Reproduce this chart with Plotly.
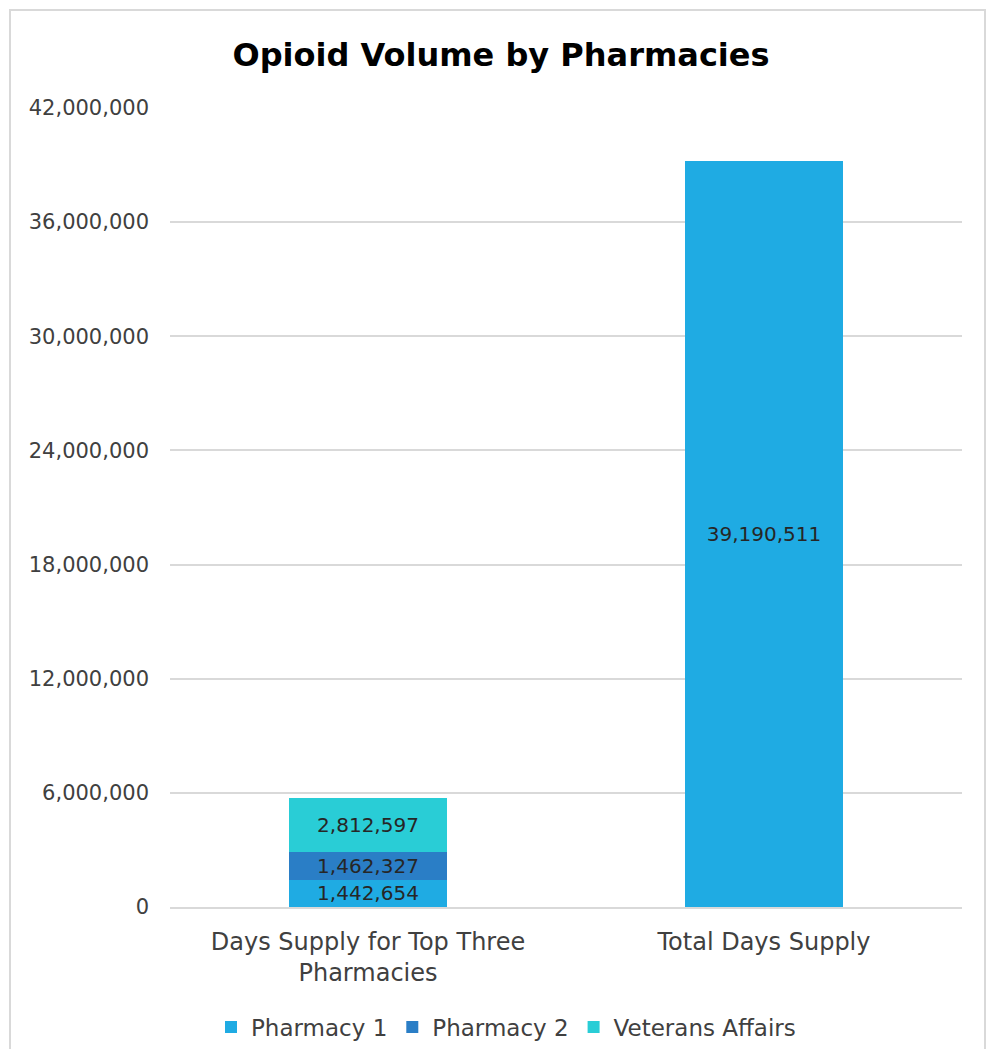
import plotly.graph_objects as go

categories = ["Days Supply for Top Three<br>Pharmacies", "Total Days Supply"]
pharmacy1 = [1442654, 39190511]
pharmacy2 = [1462327, None]
veterans_affairs = [2812597, None]
y_ticks = [0, 6000000, 12000000, 18000000, 24000000, 30000000, 36000000, 42000000]

FONT = "DejaVu Sans"
fig = go.Figure()
for name, vals, color in [("Pharmacy 1", pharmacy1, "#1FABE3"),
                          ("Pharmacy 2", pharmacy2, "#2A7EC6"),
                          ("Veterans Affairs", veterans_affairs, "#29CDD6")]:
    fig.add_trace(go.Bar(
        x=categories, y=vals, name=name, marker=dict(color=color, line=dict(width=0)),
        texttemplate="%{y:,}", textposition="inside", insidetextanchor="middle",
        textfont=dict(family=FONT, size=20, color="#262626"),
    ))

# page body has an 8px margin on every side; keep page within the window
OFF = 8
W, H = 995 - 2 * OFF, 1057 - 2 * OFF
L = 170 - OFF
R = OFF + W - 962
T = 108 - OFF
B = OFF + H - 907
pw, ph = W - L - R, H - T - B
fig.update_layout(
    width=W, height=H, barmode="stack", bargap=0.6,
    margin=dict(l=L, r=R, t=T, b=B, autoexpand=False),
    paper_bgcolor="white", plot_bgcolor="white",
    font=dict(family=FONT, size=20, color="#404040"),
    title=dict(text="<b>Opioid Volume by Pharmacies</b>", x=(501 - OFF) / W, xanchor="center",
               y=1 - (55 - OFF) / H, yanchor="middle",
               font=dict(family=FONT, size=32, color="#000000")),
    uniformtext=dict(minsize=20, mode="show"),
    legend=dict(orientation="h", xref="container", x=(506 - OFF) / W, xanchor="center",
                yref="container", y=1 - (1027 - OFF) / H, yanchor="middle",
                font=dict(family=FONT, size=23, color="#404040"),
                traceorder="normal"),
    showlegend=True,
)
fig.update_yaxes(range=[0, 42000000], tickvals=y_ticks, tickformat=",",
                 showgrid=True, gridcolor="#D9D9D9", gridwidth=1.5,
                 zeroline=False, showline=False, ticks="", ticklabelstandoff=20,
                 automargin=False,
                 tickfont=dict(family=FONT, size=21, color="#404040"))
fig.update_xaxes(showline=True, linecolor="#D9D9D9", linewidth=1.5, ticks="",
                 ticklabelstandoff=12, automargin=False,
                 tickfont=dict(family=FONT, size=24, color="#404040"))
fig.add_shape(type="rect", xref="paper", yref="paper",
              x0=(10 - 170) / pw, x1=(985 - 170) / pw,
              y0=(907 - 1070) / ph, y1=(907 - 10) / ph,
              line=dict(color="#D9D9D9", width=2), fillcolor="rgba(0,0,0,0)", layer="below")
fig.write_html("out.html")
